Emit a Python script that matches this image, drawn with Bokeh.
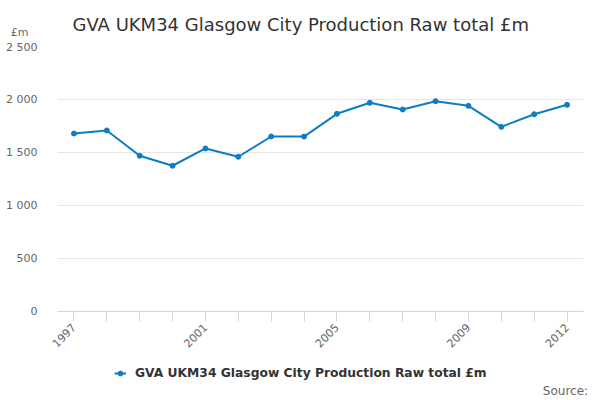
from math import pi
from bokeh.plotting import figure
from bokeh.layouts import column
from bokeh.models import Legend, LegendItem, FixedTicker, Range1d, Label
from bokeh.embed import file_html
from bokeh.resources import INLINE

years = list(range(1997, 2013))
gva = [1679, 1708, 1469, 1375, 1538, 1460, 1651, 1650,
       1865, 1969, 1906, 1984, 1940, 1742, 1861, 1950]
y_ticks = [0, 500, 1000, 1500, 2000, 2500]
y_tick_labels = ["0", "500", "1 000", "1 500", "2 000", "2 500"]
x_label_years = [1997, 2001, 2005, 2009, 2012]

title = "GVA UKM34 Glasgow City Production Raw total £m"
font = "DejaVu Sans"
blue = "#0f7cc1"
W = 600
LEFT, RIGHT = 57, 17   # chart borders; the strips get the same frame edges


def strip(h, bottom=0, xaxis=None, yaxis=None):
    # text strip: x in page pixels, y in pixels up from the frame's bottom
    f = figure(width=W, height=h, output_backend="svg", toolbar_location=None,
               x_range=Range1d(LEFT, W - RIGHT), y_range=Range1d(0, h - bottom),
               x_axis_type=xaxis, y_axis_type=yaxis, min_border=0,
               min_border_left=LEFT, min_border_right=RIGHT,
               min_border_top=0, min_border_bottom=bottom)
    f.outline_line_color = None
    f.grid.grid_line_color = None
    return f


def bare_axis(ax, where, text, size, standoff):
    # an axis that only shows one text, at a single tick
    ax.ticker = FixedTicker(ticks=[where])
    ax.major_label_overrides = {where: text}
    ax.axis_line_color = None
    ax.major_tick_line_color = None
    ax.minor_tick_line_color = None
    ax.major_tick_in = 0
    ax.major_tick_out = 0
    ax.major_label_standoff = standoff
    ax.major_label_text_font = font
    ax.major_label_text_font_size = size
    ax.major_label_text_color = "#666666"


# header: title and unit
head = strip(40, yaxis="linear")
head.add_layout(Label(x=72, y=16, text=title, text_font=font, text_font_size="18px",
                      text_color="#333333", text_baseline="alphabetic"))
bare_axis(head.yaxis, 8, "£m", "11px", 29)

# chart
p = figure(width=W, height=321, output_backend="svg", toolbar_location=None,
           x_range=Range1d(1996.5, 2012.5), y_range=Range1d(0, 2500),
           min_border_left=LEFT, min_border_right=RIGHT, min_border_top=6,
           min_border_bottom=50)
p.outline_line_color = None

p.yaxis.ticker = FixedTicker(ticks=y_ticks)
p.yaxis.major_label_overrides = dict(zip(y_ticks, y_tick_labels))
p.yaxis.axis_line_color = None
p.yaxis.major_tick_line_color = None
p.yaxis.minor_tick_line_color = None
p.yaxis.major_label_standoff = 14
p.yaxis.major_label_text_font = font
p.yaxis.major_label_text_font_size = "11px"
p.yaxis.major_label_text_color = "#666666"
p.ygrid.ticker = FixedTicker(ticks=y_ticks)
p.ygrid.grid_line_color = "#e6e6e6"
p.xgrid.grid_line_color = None

p.xaxis.ticker = FixedTicker(ticks=years)
p.xaxis.major_label_overrides = {yr: (str(yr) if yr in x_label_years else "") for yr in years}
p.xaxis.axis_line_color = "#ccd6eb"
p.xaxis.major_tick_line_color = "#ccd6eb"
p.xaxis.major_tick_in = 0
p.xaxis.major_tick_out = 10
p.xaxis.minor_tick_line_color = None
p.xaxis.major_label_orientation = pi / 4
p.xaxis.major_label_standoff = 4
p.xaxis.major_label_text_font = font
p.xaxis.major_label_text_font_size = "11px"
p.xaxis.major_label_text_color = "#666666"

p.line(years, gva, line_color=blue, line_width=2)
p.scatter(years, gva, size=5, color=blue)

# footer: legend and source (key glyphs reuse the series, which falls outside this strip's ranges)
foot = strip(39, bottom=19, xaxis="linear")
key_line = foot.line(years, gva, line_color=blue, line_width=2)
key_dot = foot.scatter(years, gva, size=5, color=blue)
legend = Legend(items=[LegendItem(label=title, renderers=[key_line, key_dot])],
                location=(114 - LEFT, 0), orientation="horizontal",
                label_text_font=font, label_text_font_size="12.3px",
                label_text_font_style="bold", label_text_color="#333333",
                glyph_width=12, glyph_height=16, label_height=16, label_standoff=9,
                border_line_color=None, background_fill_alpha=0,
                margin=0, padding=0)
foot.add_layout(legend)
bare_axis(foot.xaxis, 565, "Source:", "12px", 2)

page = column(head, p, foot, spacing=0)
open("out.html", "w").write(file_html(page, INLINE))
